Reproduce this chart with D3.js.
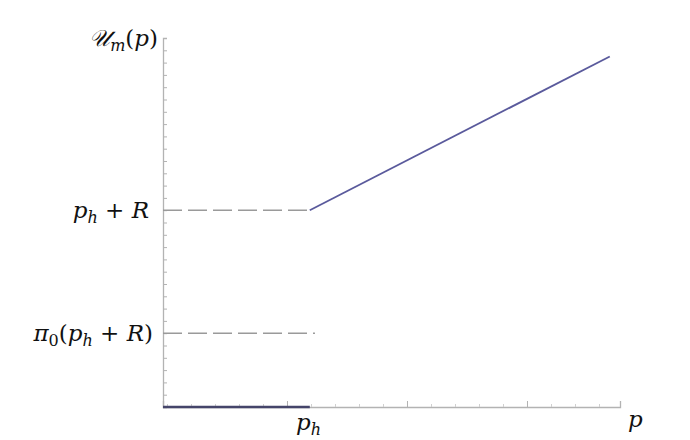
<!DOCTYPE html>
<html><head><meta charset="utf-8">
<script src="https://cdn.jsdelivr.net/npm/d3@7"></script>
<style>body{margin:0;background:#fff}</style>
</head><body>
<svg id="c" width="690" height="440"></svg>
<script>
// data
const xDomain = [-0.0333, 3.775];
const yDomain = [0, 3];
const ph = 1.19;          // kink location p_h
const phR = 1.6;          // p_h + R
const pi0phR = 0.6;       // pi_0 (p_h + R)
const pEnd = 3.69;
const slope = 0.5;
const utilityLine = [[xDomain[0], 0], [ph, 0]];
const utilityRise = [[ph, phR], [pEnd, phR + slope * (pEnd - ph)]];
const dashLines = [
  {y: phR, x1: xDomain[0], x2: ph},
  {y: pi0phR, x1: xDomain[0], x2: 1.233}
];
const xMajor = [1, 2, 3];
const xMinor = d3.range(0, 3.8, 0.2);
const yTicks = d3.range(0, 3.0001, 0.1);

const FONT = "'DejaVu Serif', serif";
const svg = d3.select("#c");
const x = d3.scaleLinear().domain(xDomain).range([163, 620]);
const y = d3.scaleLinear().domain(yDomain).range([407, 38]);

const axisCol = "#b3b3b3";
// x axis
const gx = svg.append("g").attr("transform", `translate(0,${y(0)})`)
  .call(d3.axisBottom(x).tickValues(xMajor).tickSize(-6).tickFormat(""));
gx.select(".domain").attr("stroke", axisCol).attr("stroke-width", 1.3);
gx.selectAll(".tick line").attr("stroke", axisCol);
svg.append("g").attr("transform", `translate(0,${y(0)})`)
  .call(d3.axisBottom(x).tickValues(xMinor.filter(v => !xMajor.some(m => Math.abs(m - v) < 1e-6))).tickSize(-3).tickFormat(""))
  .call(g => { g.select(".domain").remove(); g.selectAll(".tick line").attr("stroke", "#d0d0d0"); });
// y axis
const gy = svg.append("g").attr("transform", `translate(${x(xDomain[0])},0)`)
  .call(d3.axisRight(y).tickValues(yTicks).tickSize(4).tickFormat(""));
gy.select(".domain").attr("stroke", axisCol).attr("stroke-width", 1.3);
gy.selectAll(".tick line").attr("stroke", axisCol);

// dashed lines
svg.selectAll(".dash").data(dashLines).enter().append("line")
  .attr("x1", d => x(d.x1)).attr("x2", d => x(d.x2))
  .attr("y1", d => y(d.y)).attr("y2", d => y(d.y))
  .attr("stroke", "#9a9a9a").attr("stroke-width", 1.6).attr("stroke-dasharray", "19,6");

// utility
const line = d3.line().x(d => x(d[0])).y(d => y(d[1]));
svg.append("path").attr("d", line(utilityLine)).attr("fill", "none")
  .attr("stroke", "#45456a").attr("stroke-width", 2.4);
svg.append("path").attr("d", line(utilityRise)).attr("fill", "none")
  .attr("stroke", "#5a5a9c").attr("stroke-width", 1.8);

// labels: parts = [text, isSub, style]
function label(parts, xx, yy, anchor) {
  const tx = svg.append("text").attr("x", xx).attr("y", yy).attr("text-anchor", anchor)
    .style("font-size", "23px").style("fill", "#111").style("font-family", FONT);
  let inSub = false;
  parts.forEach(([t, s, st]) => {
    const ts = tx.append("tspan").text(t).style("font-style", st || "italic");
    if (s && !inSub) { ts.style("font-size", "16px").attr("dy", 5); inSub = true; }
    else if (s) { ts.style("font-size", "16px"); }
    else if (inSub) { ts.attr("dy", -5); inSub = false; }
  });
  return tx;
}
label([["p"], ["h", 1], [" + ", 0, "normal"], ["R"]], 149, 218, "end");
label([["π"], ["0", 1, "normal"], ["(", 0, "normal"], ["p"], ["h", 1], [" + ", 0, "normal"], ["R"], [")", 0, "normal"]], 153, 341, "end");
label([["𝒰"], ["m", 1], ["(", 0, "normal"], ["p"], [")", 0, "normal"]], 158, 46, "end");
label([["p"], ["h", 1]], 296, 430, "start");
label([["p"]], 628, 427, "start");
</script>
</body></html>
